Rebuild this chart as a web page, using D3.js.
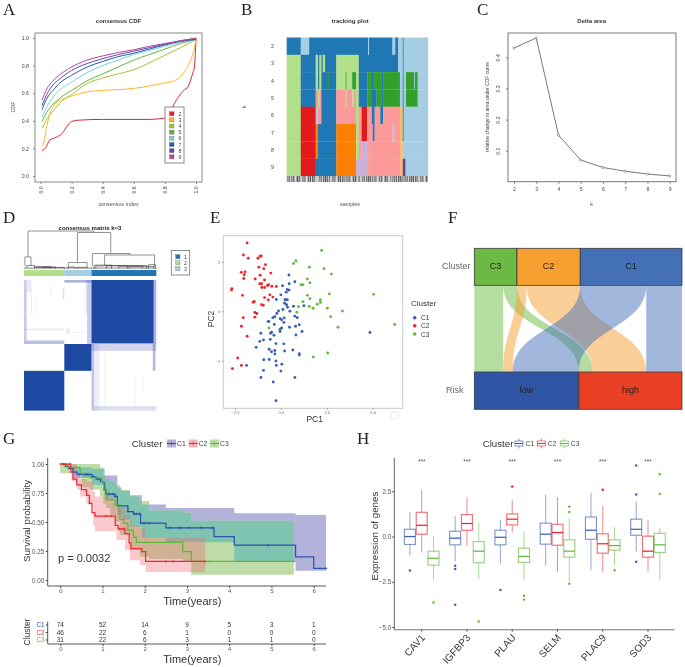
<!DOCTYPE html>
<html>
<head>
<meta charset="utf-8">
<script src="https://cdnjs.cloudflare.com/ajax/libs/d3/7.8.5/d3.min.js"></script>
<style>
html, body { margin: 0; padding: 0; background: #fff; }
svg { display: block; filter: blur(0.35px); }
text { font-family: "Liberation Sans", Arial, sans-serif; }
</style>
</head>
<body>
<div id="chart"></div>
<script>
// A - consensus CDF
var cdfKeys = ["2", "3", "4", "5", "6", "7", "8", "9"];
var cdfColors = ["#e3202c", "#ffb52e", "#a8c236", "#63b53f", "#7fd0dd", "#1f5cae", "#5b48a3", "#c1409b"];
var cdfTicks = [0, 0.2, 0.4, 0.6, 0.8, 1];
var cdfK2 = [[0.01,0.185],[0.03,0.2],[0.06,0.26],[0.1,0.28],[0.14,0.31],[0.17,0.36],[0.2,0.395],[0.25,0.405],[0.4,0.41],[0.7,0.41],[0.8,0.42],[0.83,0.44],[0.85,0.5],[0.88,0.56],[0.92,0.62],[0.95,0.65],[0.98,0.75],[0.99,0.79],[1,1]];
var cdfK3 = [[0.01,0.215],[0.02,0.24],[0.04,0.36],[0.07,0.48],[0.1,0.53],[0.15,0.56],[0.2,0.58],[0.3,0.61],[0.4,0.62],[0.6,0.635],[0.8,0.675],[0.86,0.69],[0.9,0.72],[0.94,0.78],[0.97,0.85],[0.99,0.93],[1,1]];
var cdfGridX = [0.01,0.04,0.08,0.12,0.2,0.3,0.4,0.5,0.6,0.7,0.8,0.9,1];
var cdfK4 = [0.345,0.41,0.47,0.525,0.59,0.67,0.71,0.74,0.77,0.82,0.875,0.93,0.99];
var cdfK5 = [0.395,0.46,0.52,0.56,0.62,0.69,0.74,0.79,0.84,0.88,0.92,0.96,0.99];
var cdfK6 = [0.425,0.5,0.57,0.62,0.68,0.75,0.8,0.84,0.88,0.91,0.94,0.97,0.99];
var cdfK7 = [0.48,0.56,0.62,0.67,0.73,0.79,0.83,0.865,0.89,0.92,0.95,0.975,0.99];
var cdfK8 = [0.51,0.59,0.66,0.7,0.765,0.815,0.85,0.88,0.905,0.93,0.955,0.98,0.995];
var cdfK9 = [0.55,0.63,0.69,0.73,0.79,0.84,0.87,0.895,0.915,0.94,0.96,0.98,1];

// B - tracking plot, each row is a list of [first sample, last sample, colour code]
var trackPalette = ["#a6cee3","#1f78b4","#b2df8a","#33a02c","#fb9a99","#e31a1c","#fdbf6f","#ff7f00","#cab2d6","#6a3d9a"];
var trackK = [2, 3, 4, 5, 6, 7, 8, 9];
var trackSamples = 151;
var track2 = [[0,15,1],[15,24,0],[24,87,1],[87,88,0],[88,113,1],[113,116,0],[116,119,1],[119,124,0],[124,125,1],[125,151,0]];
var track3 = [[0,15,2],[15,31,1],[31,33.5,2],[33.5,35,1],[35,37,2],[37,38.5,1],[38.5,41,2],[41,53,1],[53,77,2],[77,119,1],[119,124,0],[124,125,1],[125,151,0]];
var track4 = [[0,15,2],[15,31,1],[31,33.5,2],[33.5,35,1],[35,37,2],[37,44,1],[44,45,3],[45,53,1],[53,63,2],[63,64,3],[64,70,2],[70,74,3],[74,77,2],[77,86,1],[86,91,3],[91,93,1],[93,101,3],[101,103,1],[103,121,3],[121,124,0],[124,125,1],[125,127.5,0],[127.5,136,3],[136,137,0],[137,140,3],[140,151,0]];
var track5 = [[0,15,2],[15,31,1],[31,33.5,4],[33.5,35,2],[35,37,4],[37,53,1],[53,63,4],[63,64,2],[64,70,4],[70,72,2],[72,74,4],[74,77,2],[77,86,1],[86,91,3],[91,96,1],[96,101,3],[101,103,1],[103,121,3],[121,124,0],[124,125,1],[125,127.5,0],[127.5,140,3],[140,151,0]];
var track6 = [[0,15,2],[15,31,5],[31,33.5,0],[33.5,37,4],[37,53,1],[53,74,4],[74,77,2],[77,80,4],[80,86,5],[86,91,4],[91,94,1],[94,100,4],[100,103,1],[103,121,4],[121,124,6],[124,125,1],[125,151,0]];
var track7 = [[0,15,2],[15,31,5],[31,33.5,7],[33.5,41,1],[41,42,5],[42,53,1],[53,74,7],[74,77,2],[77,80,4],[80,86,5],[86,92,4],[92,94,1],[94,113,4],[113,115,8],[115,121,4],[121,124,6],[124,125,1],[125,151,0]];
var track8 = [[0,15,2],[15,31,5],[31,33.5,7],[33.5,53,1],[53,74,7],[74,77,2],[77,80,4],[80,87,8],[87,121,4],[121,124,6],[124,125,0],[125,151,0]];
var track9 = [[0,15,2],[15,31,5],[31,53,1],[53,74,7],[74,87,8],[87,121,4],[121,124,6],[124,127,9],[127,151,0]];
var barcodeGaps = [4,9,15,21,26,31,33,38,44,47,53,58,62,69,75,79,84,90,92,97,103,109,112,118,124,130,136,141,147];

// C - delta area
var deltaK = [2, 3, 4, 5, 6, 7, 8, 9];
var deltaValues = [0.43, 0.462, 0.15, 0.07, 0.046, 0.034, 0.025, 0.019];
var deltaTicks = [0.1, 0.2, 0.3, 0.4];

// D - consensus matrix
var matrixGroups = [[0,46,"#b2df8a"],[46,77,"#a6cee3"],[77,151,"#1f78b4"]];
var matrixStrong = [[77,148,0,73],[46,77,74,105],[0,46,105,151]];
// [col from, col to, row from, row to, strength]
var matrixFaint = [[148,151,0,73,0.45],[77,151,73,74,0.5],[0,3,0,70,0.3],[0,46,70,74,0.38],[3,8,0,14,0.12],[0,46,56,58,0.12],[44,46,10,22,0.2],[8,9,4,40,0.1],[30,31,8,20,0.1],[46,77,0,3,0.45],[72,77,0,74,0.3],[70,72,0,40,0.12],[48,52,56,62,0.15],[52,70,60,61,0.1],[77,151,74,82,0.25],[77,80,74,151,0.35],[80,86,74,151,0.1],[147,150,74,105,0.4],[80,151,146,151,0.2],[92,93,82,146,0.1],[126,127,110,146,0.1],[135,136,110,130,0.08],[14,15,20,40,0.07],[60,61,64,66,0.1]];
// [left x, left height, right x, right height, join height]
var dendroBig = [[4.6,0.31,80,0.96,1],[61,0.16,99,0.4,0.96],[1,0.07,8,0.09,0.31],[50.6,0.04,72,0.04,0.16],[78,0.06,121,0.36,0.4],[92,0.08,149,0.05,0.36]];
var dendroSmall = [[3,0.02,12,0.02,0.08],[14,0,46,0,0.03],[12,0,30,0,0.05],[22,0,36,0,0.04],[50,0,58,0,0.04],[60,0,72,0,0.03],[80,0,100,0,0.09],[82,0,118,0,0.07],[94,0,140,0,0.08],[108,0,135,0,0.06],[120,0,148,0,0.05],[142,0,150,0,0.1],[0,0,46,0,0.012],[46,0,77,0,0.012],[77,0,151,0,0.012]];
var matrixLegend = ["1", "2", "3"];
var matrixLegendColors = ["#1f78b4", "#b2df8a", "#a6cee3"];

// E - PCA
var pcaClusters = ["C1", "C2", "C3"];
var pcaColors = ["#3b60b5", "#e8262f", "#66b93f"];
var pcaC1 = [[0.44,1.46],[0.09,1.03],[0.45,1.11],[0.76,1.19],[0.35,0.88],[0.44,0.85],[0.29,0.77],[0,0.66],[-0.25,0.47],[0.22,0.46],[0.27,0.46],[0.35,0.46],[0.2,0.32],[0.31,0.26],[0.36,0.16],[0.11,0.07],[-0.13,0.01],[0.69,0.2],[1.25,0.22],[0.49,0],[-0.22,-0.09],[-0.33,-0.22],[-0.44,-0.26],[-0.04,-0.3],[0.04,-0.35],[0.18,-0.27],[0.76,-0.2],[0.89,-0.26],[-0.69,-0.41],[-0.65,-0.42],[-0.36,-0.54],[0.16,-0.45],[1,-0.55],[0.8,-0.61],[0.47,-0.65],[0.04,-0.68],[-0.05,-0.74],[-0.05,-0.82],[-0.51,-0.85],[-0.56,-0.89],[-1.09,-0.89],[1.15,-0.82],[0.82,-0.96],[-0.38,-0.97],[-0.95,-1.16],[-1.15,-1.22],[-0.58,-1.14],[-1.35,-1.46],[-0.27,-1.31],[0.16,-1.32],[-0.64,-1.54],[-0.51,-1.64],[-0.33,-1.73],[-0.33,-1.59],[0.2,-1.61],[0.65,-1.57],[1,-1.72],[1,-1.77],[-0.93,-1.96],[-0.64,-1.95],[-0.27,-2.01],[0.05,-2.14],[-0.25,-2.19],[-1.87,-2.19],[-0.95,-2.39],[0,-2.42],[-1.09,-2.68],[0.76,-2.68],[-0.42,-2.86],[-0.27,-3.62],[4.85,-0.86]];
var pcaC2 = [[-1.84,2.76],[-2.04,2.27],[-1.78,2.14],[-1.07,2.23],[-1.13,2.22],[-1.25,2.14],[-0.84,1.88],[-1.2,1.78],[-0.93,1.72],[-2.16,1.57],[-1.95,1.59],[-2,1.47],[-2.02,1.32],[-1.13,1.45],[-0.55,1.54],[-1.4,1.3],[-0.89,1.26],[-1.15,1.11],[-1.05,1.11],[-1.04,0.96],[-0.89,0.96],[-0.73,1.04],[-0.67,1.07],[-0.49,1.01],[-0.25,1],[-2.67,0.91],[-2.69,0.86],[-2.09,0.64],[-0.89,0.55],[-0.6,0.66],[-0.44,0.57],[-0.69,0.45],[-1.45,0.39],[-1.51,0.36],[-1.05,0.26],[-0.96,0.24],[-1.42,-0.05],[-1.31,-0.09],[-2.05,-0.26],[-1.42,-0.24],[-2.15,-0.61],[-1.84,-1.01],[-2.35,-1.89],[-2.15,-2.19],[-2.64,-2.32]];
var pcaC3 = [[2.22,2.45],[0.82,2.04],[0.69,1.93],[1.55,1.78],[2.35,1.72],[2.75,1.5],[1.44,1.3],[1.58,1.15],[1.09,1.07],[1.2,1.07],[1.44,0.64],[2.64,0.7],[5.05,0.68],[1.58,0.51],[2.15,0.46],[2.15,0.35],[1.2,0.38],[1.98,0.28],[0.96,0.18],[1.55,0.19],[2.53,0.12],[1.76,0.12],[0.87,-0.04],[3.35,0.01],[2.71,-0.22],[6.2,-0.54],[3.11,-0.65],[-0.65,-0.68],[2.55,-1.69],[1.76,-1.85]];
var pcaXTicks = [-2.5, 0, 2.5, 5];
var pcaYTicks = [-2, 0, 2];

// F - alluvial
var alluvialTop = ["C3", "C2", "C1"];
var alluvialBottom = ["low", "high"];
var alluvialTopColors = ["#6cb944", "#f5a030", "#4470b7"];
var alluvialBottomColors = ["#2f55a4", "#e94025"];
var alluvialFlows = [["C3","low",21],["C3","high",10],["C2","low",7],["C2","high",39],["C1","low",48],["C1","high",26]];

// G - survival
var kmColors = ["#2a52a8", "#ee2a34", "#5fb83a"];
var kmBand = ["#b2b2da", "#f6b4bb", "#bedca6"];
var kmOverlap = "#7fc4b0";
var c1Times = [0,0.12,0.2,0.3,0.4,0.75,0.85,0.95,1,1.05,1.08,1.3,1.35,1.6,1.73,1.9,2.5,3.64,4.12,5.57,6,6.29];
var c1Surv = [1,0.98,0.96,0.93,0.91,0.89,0.87,0.85,0.84,0.78,0.74,0.72,0.64,0.59,0.57,0.49,0.45,0.375,0.3,0.2,0.1,0.1];
var c1BandTimes = [0,0.3,0.75,1.05,1.35,1.45,1.65,1.93,2.5,2.9,4.12,5.57,6.29];
var c1Upper = [1,0.97,0.96,0.9,0.8,0.77,0.73,0.65,0.62,0.62,0.575,0.56,0.56];
var c1Lower = [1,0.88,0.82,0.7,0.56,0.52,0.46,0.365,0.325,0.325,0.16,0.08,0.015];
var c2Times = [0,0.25,0.3,0.39,0.5,0.62,0.69,0.75,0.82,1.3,1.37,1.53,1.63,1.67,1.93,2.02,3.43];
var c2Surv = [1,0.93,0.87,0.82,0.78,0.73,0.66,0.58,0.55,0.47,0.44,0.4,0.32,0.27,0.245,0.16,0.16];
var c2BandTimes = [0,0.27,0.39,0.47,0.62,0.78,0.82,1.25,1.33,1.53,1.65,1.69,1.88,2.02,3.43];
var c2Upper = [1,1,0.9,0.87,0.85,0.76,0.72,0.69,0.62,0.56,0.52,0.47,0.445,0.365,0.365];
var c2Lower = [1,0.85,0.78,0.72,0.66,0.47,0.42,0.42,0.345,0.26,0.17,0.17,0.13,0.07,0.05];
var c3Times = [0,0.15,0.47,0.55,0.7,0.98,1.03,1.1,1.3,1.41,1.5,1.6,1.73,1.8,2.9,3.1,5.53];
var c3Surv = [1,0.97,0.92,0.9,0.88,0.85,0.775,0.69,0.65,0.52,0.49,0.43,0.37,0.325,0.245,0.16,0.16];
var c3BandTimes = [0,0.2,0.5,0.7,0.94,1.02,1.08,1.18,1.3,1.41,1.65,1.88,2.1,2.9,3.1,5.53];
var c3Upper = [1,1,1,1,0.97,0.9,0.87,0.85,0.82,0.775,0.72,0.68,0.6,0.58,0.51,0.51];
var c3Lower = [0.92,0.92,0.8,0.78,0.72,0.66,0.62,0.56,0.5,0.39,0.26,0.2,0.18,0.16,0.045,0.045];
var c1Censor = [0.15,0.45,0.6,0.65,0.78,0.9,1.05,1.1,1.15,1.25,1.3,1.4,1.6,1.75,1.8,1.88,1.95,2,2.1,2.6,2.8,2.85,3.05,3.33,3.6,4.92,6.29];
var c2Censor = [0.08,0.22,0.7,1.08,1.2,1.4,1.5,2.5,2.67,3.42];
var c3Censor = [0,1.3,2.02,2.7,3.55,5.53];
var kmXTicks = [0,1,2,3,4,5,6];
var kmYTicks = [0,0.25,0.5,0.75,1];
var riskC1 = [74,52,14,9,5,3,1];
var riskC2 = [46,22,6,1,0,0,0];
var riskC3 = [31,22,6,3,1,1,0];

// H - boxplots, [whisker low, q1, median, q3, whisker high, outliers]
var genes = ["CAV1","IGFBP3","PLAU","SELM","PLAC9","SOD3"];
var boxC1 = [[-1.05,-0.44,0,0.4,1.34,[-1.88]],[-1.38,-0.46,-0.09,0.29,1.12,[-1.62,-1.8,-3.77]],[-1.51,-0.46,-0.04,0.35,0.92,[-2.96]],[-1.6,-0.42,0.13,0.74,2.33,[]],[-1.86,-0.15,0.35,1.08,2.43,[]],[-0.83,0.07,0.4,0.96,1.95,[3.92,2.32,-1.4]]];
var boxC2 = [[-0.88,0.13,0.62,1.34,2.57,[]],[-0.5,0.35,0.72,1.21,2.17,[]],[0.22,0.64,0.96,1.25,2,[2.76]],[-1.97,-0.48,0.22,0.68,2.19,[]],[-1.95,-0.92,-0.4,0.15,1.67,[2.59]],[-1.91,-1.14,-0.81,0.02,0.92,[]]];
var boxC3 = [[-2.39,-1.58,-1.2,-0.81,0,[-3.64]],[-2.35,-1.45,-0.81,-0.28,0.77,[-4.7]],[-2.43,-1.43,-1.1,-0.64,0.29,[-3.27,-3.48]],[-2.5,-1.14,-0.81,-0.18,1,[1.64,1.36,-2.61]],[-1.6,-0.75,-0.5,-0.18,0.51,[-1.86]],[-2.39,-0.88,-0.46,0.18,0.48,[3.44,2.35]]];
var boxYTicks = [2.5,0,-2.5,-5];
var boxYLabels = ["2.5","0.0","\u22122.5","\u22125.0"];

var svg = d3.select("#chart").append("svg").attr("width", 685).attr("height", 667);

function label(t, x, y, size, opts) {
    opts = opts || {};
    var n = svg.append("text").text(t).attr("x", x).attr("y", y)
        .attr("font-size", size)
        .attr("fill", opts.fill || "#333")
        .attr("text-anchor", opts.anchor || "start");
    if (opts.bold) n.attr("font-weight", "bold");
    if (opts.family) n.style("font-family", opts.family);
    if (opts.rotate) n.attr("transform", "rotate(" + opts.rotate + " " + x + " " + y + ")");
    return n;
}

function panelLetter(t, x, y) {
    label(t, x, y, 17, {fill: "#222", family: "'Liberation Serif', serif"});
}
panelLetter("A", 3, 15);
panelLetter("B", 241, 15);
panelLetter("C", 477, 15);
panelLetter("D", 3, 223);
panelLetter("E", 210, 223);
panelLetter("F", 448, 223);
panelLetter("G", 3, 444);
panelLetter("H", 357, 444);

function drawA() {
    var x = d3.scaleLinear().domain([0, 1]).range([40.5, 196]);
    var y = d3.scaleLinear().domain([0, 1]).range([176, 38]);
    var grey = "#8a8a8a";
    svg.append("rect").attr("x", 35).attr("y", 33).attr("width", 167).attr("height", 149)
        .attr("fill", "none").attr("stroke", grey).attr("stroke-width", 1);
    var line = d3.line().x(function(d) { return x(d[0]); }).y(function(d) { return y(d[1]); }).curve(d3.curveMonotoneX);
    var rows = [cdfK4, cdfK5, cdfK6, cdfK7, cdfK8, cdfK9].map(function(vals) {
        return vals.map(function(v, i) { return [cdfGridX[i], v]; });
    });
    var all = [cdfK2, cdfK3].concat(rows);
    all.forEach(function(s, i) {
        svg.append("path").datum(s).attr("d", line).attr("fill", "none")
            .attr("stroke", cdfColors[i]).attr("stroke-width", 1);
    });
    svg.append("g").attr("transform", "translate(0,182)")
        .call(d3.axisBottom(x).tickValues(cdfTicks).tickSize(2).tickFormat(d3.format(".1f")))
        .call(function(g) {
            g.select(".domain").remove();
            g.selectAll("line").attr("stroke", grey);
            g.selectAll("text").attr("font-size", 5.2).attr("fill", "#444").attr("text-anchor", "middle")
                .attr("y", 0).attr("dy", 0).attr("transform", "translate(1.5,8) rotate(-90)");
        });
    svg.append("g").attr("transform", "translate(35,0)")
        .call(d3.axisLeft(y).tickValues(cdfTicks).tickSize(2).tickFormat(d3.format(".1f")))
        .call(function(g) {
            g.select(".domain").remove();
            g.selectAll("line").attr("stroke", grey);
            g.selectAll("text").attr("font-size", 5.2).attr("fill", "#444").attr("x", -6);
        });
    label("consensus CDF", 118.5, 23, 6, {anchor: "middle", bold: true});
    label("consensus index", 118.5, 206, 5.4, {anchor: "middle", fill: "#555"});
    label("CDF", 15, 107, 5.4, {anchor: "middle", rotate: -90, fill: "#555"});
    svg.append("rect").attr("x", 165).attr("y", 107).attr("width", 19).attr("height", 56)
        .attr("fill", "#fff").attr("stroke", grey).attr("stroke-width", 1);
    var ly = d3.scaleBand().domain(cdfKeys).range([110.7, 160]);
    cdfKeys.forEach(function(k, i) {
        svg.append("rect").attr("x", 169.5).attr("y", ly(k) + 1).attr("width", 4.5).attr("height", 4)
            .attr("fill", cdfColors[i]).attr("stroke", "#555").attr("stroke-width", 0.3);
        label(k, 178.5, ly(k) + 5, 5.2, {fill: "#444"});
    });
}

function drawB() {
    var x = d3.scaleLinear().domain([0, trackSamples]).range([286.7, 428]);
    var y = d3.scaleBand().domain(trackK).range([37.5, 176]);
    var rows = [track2, track3, track4, track5, track6, track7, track8, track9];
    rows.forEach(function(row, r) {
        svg.append("g").selectAll("rect").data(row).enter().append("rect")
            .attr("x", function(d) { return x(d[0]); })
            .attr("y", y(trackK[r]))
            .attr("width", function(d) { return x(d[1]) - x(d[0]) + 0.2; })
            .attr("height", y.bandwidth() + 0.2)
            .attr("fill", function(d) { return trackPalette[d[2]]; });
    });
    var samples = d3.range(trackSamples);
    svg.append("g").selectAll("rect").data(samples).enter().append("rect")
        .attr("x", function(d) { return x(d); })
        .attr("y", 176).attr("height", 6)
        .attr("width", x(1) - x(0))
        .attr("fill", function(d) { return barcodeGaps.indexOf(d) >= 0 ? "#dcdcdc" : (d % 2 ? "#4a4a4a" : "#a5a5a5"); });
    trackK.forEach(function(k) {
        label(k, 272.5, y(k) + y.bandwidth() / 2 + 1.8, 5.2, {anchor: "middle", fill: "#444"});
    });
    label("tracking plot", 350, 23, 6.2, {anchor: "middle", bold: true});
    label("samples", 350, 206, 5.4, {anchor: "middle", fill: "#555"});
    label("k", 246, 107, 5.4, {anchor: "middle", rotate: -90, fill: "#555"});
}

function drawC() {
    var x = d3.scaleLinear().domain([2, 9]).range([514, 669.7]);
    var y = d3.scaleLinear().domain([0.1, 0.4]).range([150.7, 57.3]);
    var grey = "#7a7a7a";
    svg.append("rect").attr("x", 508).attr("y", 33).attr("width", 168).attr("height", 148.7)
        .attr("fill", "none").attr("stroke", grey).attr("stroke-width", 1);
    var pts = deltaK.map(function(k, i) { return [k, deltaValues[i]]; });
    svg.append("path").datum(pts)
        .attr("d", d3.line().x(function(d) { return x(d[0]); }).y(function(d) { return y(d[1]); }))
        .attr("fill", "none").attr("stroke", "#555").attr("stroke-width", 0.8);
    svg.append("g").selectAll("circle").data(pts).enter().append("circle")
        .attr("cx", function(d) { return x(d[0]); })
        .attr("cy", function(d) { return y(d[1]); })
        .attr("r", 1.1).attr("fill", "#fff").attr("stroke", "#555").attr("stroke-width", 0.5);
    svg.append("g").attr("transform", "translate(0,181.7)")
        .call(d3.axisBottom(x).tickValues(deltaK).tickSize(2).tickFormat(d3.format("d")))
        .call(function(g) {
            g.select(".domain").remove();
            g.selectAll("line").attr("stroke", grey);
            g.selectAll("text").attr("font-size", 5.2).attr("fill", "#444").attr("y", 6);
        });
    svg.append("g").attr("transform", "translate(508,0)")
        .call(d3.axisLeft(y).tickValues(deltaTicks).tickSize(2).tickFormat(d3.format(".1f")))
        .call(function(g) {
            g.select(".domain").remove();
            g.selectAll("line").attr("stroke", grey);
            g.selectAll("text").attr("font-size", 5.2).attr("fill", "#444").attr("text-anchor", "middle")
                .attr("x", 0).attr("dy", 0).attr("transform", "translate(-8.5,0) rotate(-90)");
        });
    label("Delta area", 591.7, 23, 6, {anchor: "middle", bold: true});
    label("k", 591.7, 206, 5.4, {anchor: "middle", fill: "#555"});
    label("relative change in area under CDF curve", 488.5, 107, 5, {anchor: "middle", rotate: -90, fill: "#444"});
}

function drawD() {
    var x = d3.scaleLinear().domain([0, 151]).range([24, 156.3]);
    var y = d3.scaleLinear().domain([0, 151]).range([280, 410.6]);
    var h = d3.scaleLinear().domain([0, 1]).range([268.5, 231]);
    svg.append("g").selectAll("rect").data(matrixFaint).enter().append("rect")
        .attr("x", function(d) { return x(d[0]); })
        .attr("y", function(d) { return y(d[2]); })
        .attr("width", function(d) { return x(d[1]) - x(d[0]); })
        .attr("height", function(d) { return y(d[3]) - y(d[2]); })
        .attr("fill", "#4a56b8").attr("fill-opacity", function(d) { return d[4]; });
    svg.append("g").selectAll("rect").data(matrixStrong).enter().append("rect")
        .attr("x", function(d) { return x(d[0]); })
        .attr("y", function(d) { return y(d[2]); })
        .attr("width", function(d) { return x(d[1]) - x(d[0]); })
        .attr("height", function(d) { return y(d[3]) - y(d[2]); })
        .attr("fill", "#1d49a3");
    svg.append("g").selectAll("rect").data(matrixGroups).enter().append("rect")
        .attr("x", function(d) { return x(d[0]); })
        .attr("y", 270).attr("height", 6)
        .attr("width", function(d) { return x(d[1]) - x(d[0]); })
        .attr("fill", function(d) { return d[2]; });
    function elbow(d) {
        var p = d3.path();
        p.moveTo(x(d[0]), h(d[1]));
        p.lineTo(x(d[0]), h(d[4]));
        p.lineTo(x(d[2]), h(d[4]));
        p.lineTo(x(d[2]), h(d[3]));
        return p.toString();
    }
    svg.append("g").selectAll("path").data(dendroBig).enter().append("path")
        .attr("d", elbow).attr("fill", "none").attr("stroke", "#777").attr("stroke-width", 0.8);
    svg.append("g").selectAll("path").data(dendroSmall).enter().append("path")
        .attr("d", elbow).attr("fill", "none").attr("stroke", "#333").attr("stroke-width", 0.6);
    label("consensus matrix k=3", 90, 230, 6, {anchor: "middle", bold: true, fill: "#222"});
    svg.append("rect").attr("x", 171.3).attr("y", 250.5).attr("width", 18.4).attr("height", 24.5)
        .attr("fill", "#fff").attr("stroke", "#777").attr("stroke-width", 0.8);
    matrixLegend.forEach(function(t, i) {
        var ly = d3.scalePoint().domain(matrixLegend).range([256.7, 268.7])(t);
        svg.append("rect").attr("x", 175.7).attr("y", ly - 2).attr("width", 4.3).attr("height", 4)
            .attr("fill", matrixLegendColors[i]).attr("stroke", "#555").attr("stroke-width", 0.3);
        label(t, 184, ly + 1.8, 5.2, {fill: "#444"});
    });
}

function drawE() {
    var x = d3.scaleLinear().domain([-2.5, 5]).range([235, 372.7]);
    var y = d3.scaleLinear().domain([-2, 2]).range([360.7, 261.7]);
    svg.append("rect").attr("x", 223.3).attr("y", 235.7).attr("width", 179.4).attr("height", 172.6)
        .attr("fill", "none").attr("stroke", "#c9c9c9").attr("stroke-width", 1);
    [pcaC1, pcaC2, pcaC3].forEach(function(s, i) {
        svg.append("g").selectAll("circle").data(s).enter().append("circle")
            .attr("cx", function(d) { return x(d[0]); })
            .attr("cy", function(d) { return y(d[1]); })
            .attr("r", 1.45).attr("fill", pcaColors[i]);
    });
    svg.append("g").attr("transform", "translate(0,408.3)")
        .call(d3.axisBottom(x).tickValues(pcaXTicks).tickSize(1.5).tickFormat(function(d) { return d3.format(".1f")(d).replace("-", "\u2212"); }))
        .call(function(g) {
            g.select(".domain").remove();
            g.selectAll("line").attr("stroke", "#999");
            g.selectAll("text").attr("font-size", 4.2).attr("fill", "#777").attr("y", 3);
        });
    svg.append("g").attr("transform", "translate(223.3,0)")
        .call(d3.axisLeft(y).tickValues(pcaYTicks).tickSize(1.5).tickFormat(function(d) { return String(d).replace("-", "\u2212"); }))
        .call(function(g) {
            g.select(".domain").remove();
            g.selectAll("line").attr("stroke", "#999");
            g.selectAll("text").attr("font-size", 4.2).attr("fill", "#777").attr("x", -3);
        });
    label("PC1", 314.7, 422, 8.5, {anchor: "middle"});
    label("PC2", 214, 319, 8.5, {anchor: "middle", rotate: -90});
    label("Cluster", 411, 306, 8, {fill: "#333"});
    var ly = d3.scalePoint().domain(pcaClusters).range([317.7, 334]);
    pcaClusters.forEach(function(c, i) {
        svg.append("circle").attr("cx", 414.7).attr("cy", ly(c)).attr("r", 1.8).attr("fill", pcaColors[i]);
        label(c, 421, ly(c) + 2.5, 6.5);
    });
    // small pale stamp at the corner of the frame
    svg.append("rect").attr("x", 391).attr("y", 412).attr("width", 7).attr("height", 7).attr("rx", 2)
        .attr("fill", "none").attr("stroke", "#e2e2e2").attr("stroke-width", 0.8);
}

function drawF() {
    var total = d3.sum(alluvialFlows, function(d) { return d[2]; });
    var x = d3.scaleLinear().domain([0, total]).range([474.3, 682]);
    var topY = [248.3, 285.3], botY = [372, 409.3];
    function strata(names, idx) {
        var pos = 0, out = {};
        names.forEach(function(n) {
            var w = d3.sum(alluvialFlows.filter(function(f) { return f[idx] === n; }), function(f) { return f[2]; });
            out[n] = {x0: pos, x1: pos + w, next: pos};
            pos += w;
        });
        return out;
    }
    var tops = strata(alluvialTop, 0), bots = strata(alluvialBottom, 1);
    var byBottom = alluvialTop.slice();
    var placed = {};
    alluvialFlows.forEach(function(f) {
        placed[f[0] + f[1]] = {t0: tops[f[0]].next, t1: tops[f[0]].next + f[2]};
        tops[f[0]].next += f[2];
    });
    alluvialBottom.forEach(function(b) {
        byBottom.forEach(function(c) {
            var f = alluvialFlows.filter(function(q) { return q[0] === c && q[1] === b; })[0];
            placed[c + b].b0 = bots[b].next;
            placed[c + b].b1 = bots[b].next + f[2];
            bots[b].next += f[2];
        });
    });
    var ym = (topY[1] + botY[0]) / 2;
    alluvialFlows.forEach(function(f) {
        var q = placed[f[0] + f[1]];
        var p = d3.path();
        p.moveTo(x(q.t0), topY[1]);
        p.bezierCurveTo(x(q.t0), ym, x(q.b0), ym, x(q.b0), botY[0]);
        p.lineTo(x(q.b1), botY[0]);
        p.bezierCurveTo(x(q.b1), ym, x(q.t1), ym, x(q.t1), topY[1]);
        p.closePath();
        svg.append("path").attr("d", p.toString())
            .attr("fill", alluvialTopColors[alluvialTop.indexOf(f[0])]).attr("fill-opacity", 0.5);
    });
    alluvialTop.forEach(function(n, i) {
        svg.append("rect").attr("x", x(tops[n].x0)).attr("y", topY[0])
            .attr("width", x(tops[n].x1) - x(tops[n].x0)).attr("height", topY[1] - topY[0])
            .attr("fill", alluvialTopColors[i]).attr("stroke", "#3a3a3a").attr("stroke-width", 0.8);
        label(n, (x(tops[n].x0) + x(tops[n].x1)) / 2, 268.5, 9, {anchor: "middle", fill: "#222"});
    });
    alluvialBottom.forEach(function(n, i) {
        svg.append("rect").attr("x", x(bots[n].x0)).attr("y", botY[0])
            .attr("width", x(bots[n].x1) - x(bots[n].x0)).attr("height", botY[1] - botY[0])
            .attr("fill", alluvialBottomColors[i]).attr("stroke", "#3a3a3a").attr("stroke-width", 0.8);
        label(n, (x(bots[n].x0) + x(bots[n].x1)) / 2, 392.5, 9, {anchor: "middle", fill: "#222"});
    });
    label("Cluster", 470.5, 268.5, 9, {anchor: "end", fill: "#666"});
    label("Risk", 446, 392.5, 9, {fill: "#666"});
}

function drawG() {
    var x = d3.scaleLinear().domain([0, 6]).range([60.3, 313.7]);
    var y = d3.scaleLinear().domain([0, 1]).range([580, 464]);
    var times = [c1Times, c2Times, c3Times];
    var survs = [c1Surv, c2Surv, c3Surv];
    var censors = [c1Censor, c2Censor, c3Censor];
    function bandRows(t, u, l) { return t.map(function(v, i) { return [v, u[i], l[i]]; }); }
    var area = d3.area().curve(d3.curveStepAfter)
        .x(function(d) { return x(d[0]); })
        .y0(function(d) { return y(d[2]); })
        .y1(function(d) { return y(d[1]); });
    var c1Band = bandRows(c1BandTimes, c1Upper, c1Lower);
    var c2Band = bandRows(c2BandTimes, c2Upper, c2Lower);
    var c3Band = bandRows(c3BandTimes, c3Upper, c3Lower);
    svg.append("path").attr("d", area(c1Band)).attr("fill", kmBand[0]);
    svg.append("path").attr("d", area(c3Band)).attr("fill", kmBand[2]);
    svg.append("clipPath").attr("id", "c3clip").append("path").attr("d", area(c3Band));
    svg.append("path").attr("d", area(c1Band)).attr("fill", kmOverlap).attr("clip-path", "url(#c3clip)");
    svg.append("path").attr("d", area(c2Band)).attr("fill", "#ee6a76").attr("fill-opacity", 0.36);

    var line = d3.line().curve(d3.curveStepAfter)
        .x(function(d) { return x(d[0]); })
        .y(function(d) { return y(d[1]); });
    [0, 2, 1].forEach(function(k) {
        var pts = times[k].map(function(t, i) { return [t, survs[k][i]]; });
        svg.append("path").datum(pts).attr("d", line).attr("fill", "none")
            .attr("stroke", kmColors[k]).attr("stroke-width", 1.25);
        var g = svg.append("g").attr("stroke", kmColors[k]).attr("stroke-width", 0.6);
        censors[k].forEach(function(t) {
            var s = survs[k][Math.max(0, d3.bisectRight(times[k], t) - 1)];
            g.append("line").attr("x1", x(t)).attr("x2", x(t)).attr("y1", y(s) - 1.6).attr("y2", y(s) + 1.6);
            g.append("line").attr("x1", x(t) - 1.6).attr("x2", x(t) + 1.6).attr("y1", y(s)).attr("y2", y(s));
        });
    });

    function kmAxis(yPos) {
        svg.append("g").attr("transform", "translate(0," + yPos + ")")
            .call(d3.axisBottom(x).tickValues(kmXTicks).tickSize(2).tickFormat(d3.format("d")))
            .call(function(g) {
                g.select(".domain").remove();
                g.selectAll("line").attr("stroke", "#444");
                g.selectAll("text").attr("font-size", 6).attr("fill", "#555").attr("y", 3);
            });
        svg.append("line").attr("x1", 47.7).attr("x2", 326).attr("y1", yPos).attr("y2", yPos)
            .attr("stroke", "#444").attr("stroke-width", 0.9);
    }
    kmAxis(586);
    svg.append("line").attr("x1", 47.7).attr("x2", 47.7).attr("y1", 458).attr("y2", 586)
        .attr("stroke", "#444").attr("stroke-width", 0.9);
    svg.append("g").attr("transform", "translate(47.7,0)")
        .call(d3.axisLeft(y).tickValues(kmYTicks).tickSize(2).tickFormat(d3.format(".2f")))
        .call(function(g) {
            g.select(".domain").remove();
            g.selectAll("line").attr("stroke", "#444");
            g.selectAll("text").attr("font-size", 6.3).attr("fill", "#555").attr("x", -3.5);
        });
    label("Survival probability", 30, 521, 9.8, {anchor: "middle", rotate: -90});
    label("Time(years)", 192.3, 605, 11, {anchor: "middle"});
    label("p = 0.0032", 58, 562, 11);

    label("Cluster", 131.7, 447, 9.7, {});
    var keyX = [167, 188.7, 210];
    pcaClusters.forEach(function(c, i) {
        svg.append("rect").attr("x", keyX[i]).attr("y", 439.5).attr("width", 9).attr("height", 8).attr("fill", kmBand[i]);
        svg.append("line").attr("x1", keyX[i]).attr("x2", keyX[i] + 9).attr("y1", 443.5).attr("y2", 443.5)
            .attr("stroke", kmColors[i]).attr("stroke-width", 1.1);
        svg.append("line").attr("x1", keyX[i] + 4.5).attr("x2", keyX[i] + 4.5).attr("y1", 441.5).attr("y2", 445.5)
            .attr("stroke", kmColors[i]).attr("stroke-width", 0.6);
        label(c, keyX[i] + 10, 446, 6.8, {fill: "#444"});
    });

    // risk table
    var rows = [riskC1, riskC2, riskC3];
    var rowY = d3.scalePoint().domain(pcaClusters).range([625, 640]);
    pcaClusters.forEach(function(c, i) {
        rows[i].forEach(function(v, j) {
            label(v, x(kmXTicks[j]), rowY(c) + 2.3, 6.5, {anchor: "middle", fill: "#333"});
        });
        label(c, 44.5, rowY(c) + 2.3, 6.3, {anchor: "end", fill: kmColors[i]});
        svg.append("line").attr("x1", 45.7).attr("x2", 47.7).attr("y1", rowY(c)).attr("y2", rowY(c)).attr("stroke", "#444");
    });
    kmAxis(644);
    svg.append("line").attr("x1", 47.7).attr("x2", 47.7).attr("y1", 621.7).attr("y2", 644)
        .attr("stroke", "#444").attr("stroke-width", 0.9);
    label("Cluster", 30, 632, 8.5, {anchor: "middle", rotate: -90});
    label("Time(years)", 192.3, 663, 11, {anchor: "middle"});
}

function drawH() {
    var x = d3.scalePoint().domain(genes).range([421.7, 648]);
    var y = d3.scaleLinear().domain([-5, 2.5]).range([627, 491.3]);
    var boxes = [boxC1, boxC2, boxC3];
    var dodge = d3.scalePoint().domain(pcaClusters).range([-11.8, 11.8]);
    var boxW = 11;
    boxes.forEach(function(set, k) {
        var col = pcaColors[k], dx = dodge(pcaClusters[k]);
        set.forEach(function(b, i) {
            var g = svg.append("g").attr("transform", "translate(" + (x(genes[i]) + dx) + ",0)");
            g.append("line").attr("y1", y(b[0])).attr("y2", y(b[1])).attr("stroke", col).attr("stroke-opacity", 0.55);
            g.append("line").attr("y1", y(b[3])).attr("y2", y(b[4])).attr("stroke", col).attr("stroke-opacity", 0.55);
            g.append("rect").attr("x", -boxW / 2).attr("width", boxW)
                .attr("y", y(b[3])).attr("height", y(b[1]) - y(b[3]))
                .attr("fill", "#fff").attr("stroke", col).attr("stroke-opacity", 0.65).attr("stroke-width", 1.15);
            g.append("line").attr("x1", -boxW / 2).attr("x2", boxW / 2)
                .attr("y1", y(b[2])).attr("y2", y(b[2])).attr("stroke", col).attr("stroke-width", 1.25);
            g.selectAll("circle").data(b[5]).enter().append("circle")
                .attr("cy", function(d) { return y(d); }).attr("r", 1.25).attr("fill", col);
        });
    });
    svg.append("line").attr("x1", 394.3).attr("x2", 394.3).attr("y1", 458).attr("y2", 629.7).attr("stroke", "#555").attr("stroke-width", 0.9);
    svg.append("line").attr("x1", 394.3).attr("x2", 674.3).attr("y1", 629.7).attr("y2", 629.7).attr("stroke", "#777").attr("stroke-width", 1.1);
    svg.append("g").attr("transform", "translate(394.3,0)")
        .call(d3.axisLeft(y).tickValues(boxYTicks).tickSize(2).tickFormat(function(d, i) { return boxYLabels[i]; }))
        .call(function(g) {
            g.select(".domain").remove();
            g.selectAll("line").attr("stroke", "#444");
            g.selectAll("text").attr("font-size", 6.3).attr("fill", "#555").attr("x", -3);
        });
    genes.forEach(function(n) {
        svg.append("line").attr("x1", x(n)).attr("x2", x(n)).attr("y1", 629.7).attr("y2", 631.7).attr("stroke", "#444");
        label("***", x(n), 464, 6.5, {anchor: "middle", fill: "#555"});
        label(n, x(n) + 4, 638, 10, {anchor: "end", rotate: -48, fill: "#333"});
    });
    label("Expression of genes", 378, 536, 9.8, {anchor: "middle", rotate: -90});
    label("Cluster", 482.7, 447, 9.7, {});
    var keyX = [515, 537.3, 560.3];
    pcaClusters.forEach(function(c, i) {
        var cx = keyX[i] + 4;
        svg.append("line").attr("x1", cx).attr("x2", cx).attr("y1", 438.5).attr("y2", 448.5).attr("stroke", pcaColors[i]).attr("stroke-opacity", 0.6);
        svg.append("rect").attr("x", keyX[i]).attr("y", 441).attr("width", 8).attr("height", 5).attr("fill", "#fff")
            .attr("stroke", pcaColors[i]).attr("stroke-opacity", 0.8).attr("stroke-width", 0.8);
        svg.append("line").attr("x1", keyX[i]).attr("x2", keyX[i] + 8).attr("y1", 443.5).attr("y2", 443.5).attr("stroke", pcaColors[i]);
        label(c, keyX[i] + 10.5, 446, 6.8, {fill: "#444"});
    });
}

drawE();
drawD();
drawA();
drawB();
drawC();
drawF();
drawG();
drawH();
</script>
</body>
</html>
